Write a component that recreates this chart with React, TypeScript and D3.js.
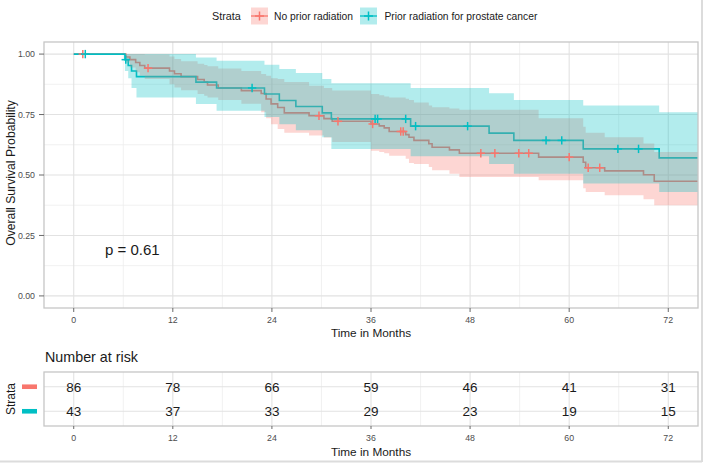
import React from "react";
import * as d3 from "d3";

// ---- data ----
const monthTicks = [0, 12, 24, 36, 48, 60, 72];
const monthMinor = [6, 18, 30, 42, 54, 66];
const probTicks = [0, 0.25, 0.5, 0.75, 1];
const probMinor = [0.125, 0.375, 0.625, 0.875];
const strataNames = ["No prior radiation", "Prior radiation for prostate cancer"];
const strataColors = ["#F8766D", "#00BFC4"];

const noPriorTime = [0, 6.3, 6.8, 7.5, 8.0, 8.6, 11.6, 12.2, 13.0, 15.0, 15.8, 16.2, 17.5, 20.3, 22.7, 23.3, 23.9, 24.7, 25.5, 28.5, 30.3, 31.3, 36.0, 37.0, 37.6, 38.2, 40.2, 40.6, 41.2, 43.0, 43.4, 45.5, 46.7, 56.3, 61.7, 62.0, 64.3, 69.0, 70.3];
const noPriorSurv = [1.0, 0.988, 0.977, 0.965, 0.953, 0.942, 0.930, 0.919, 0.907, 0.895, 0.884, 0.872, 0.860, 0.849, 0.837, 0.814, 0.794, 0.779, 0.757, 0.745, 0.733, 0.722, 0.711, 0.703, 0.695, 0.680, 0.667, 0.656, 0.643, 0.629, 0.615, 0.604, 0.590, 0.574, 0.553, 0.530, 0.517, 0.501, 0.474];
const noPriorUpper = [1, 1, 1, 1, 1, 0.998, 0.99, 0.98, 0.97, 0.96, 0.955, 0.95, 0.94, 0.93, 0.918, 0.91, 0.90, 0.897, 0.885, 0.869, 0.86, 0.849, 0.835, 0.83, 0.825, 0.82, 0.815, 0.81, 0.80, 0.787, 0.78, 0.775, 0.77, 0.735, 0.70, 0.675, 0.656, 0.63, 0.595];
const noPriorLower = [1, 0.965, 0.945, 0.925, 0.91, 0.897, 0.875, 0.862, 0.85, 0.835, 0.828, 0.82, 0.81, 0.795, 0.76, 0.735, 0.71, 0.69, 0.675, 0.663, 0.655, 0.636, 0.60, 0.595, 0.59, 0.58, 0.567, 0.55, 0.545, 0.533, 0.52, 0.505, 0.492, 0.478, 0.445, 0.43, 0.416, 0.40, 0.375];
const noPriorCensor = [1.1, 9.0, 29.7, 32.0, 36.2, 39.6, 39.9, 49.3, 51.0, 53.9, 55.1, 60.0, 62.3, 63.7];

const priorTime = [0, 6.2, 6.6, 7.0, 7.6, 14.8, 17.3, 23.1, 24.9, 26.9, 30.1, 31.2, 40.8, 50.3, 53.3, 61.7, 70.9];
const priorSurv = [1, 0.977, 0.953, 0.930, 0.907, 0.884, 0.860, 0.835, 0.808, 0.783, 0.757, 0.732, 0.702, 0.673, 0.643, 0.608, 0.571];
const priorUpper = [1, 1, 1, 1, 1, 0.986, 0.972, 0.956, 0.938, 0.922, 0.897, 0.879, 0.860, 0.838, 0.810, 0.787, 0.760];
const priorLower = [1, 0.93, 0.90, 0.86, 0.821, 0.794, 0.766, 0.74, 0.71, 0.685, 0.656, 0.608, 0.578, 0.545, 0.505, 0.465, 0.43];
const priorCensor = [1.4, 6.3, 21.6, 36.5, 36.8, 40.2, 41.4, 47.7, 57.2, 59.1, 65.9, 68.4];

const riskNoPrior = [86, 78, 66, 59, 46, 41, 31];
const riskPrior = [43, 37, 33, 29, 23, 19, 15];
const maxFollowUp = 76;

const FONT = "'Liberation Sans', Arial, Helvetica, sans-serif";

type Group = {
  time: number[]; surv: number[]; upper: number[]; lower: number[]; censor: number[]; color: string;
};

const groups: Group[] = [
  { time: noPriorTime, surv: noPriorSurv, upper: noPriorUpper, lower: noPriorLower, censor: noPriorCensor, color: strataColors[0] },
  { time: priorTime, surv: priorSurv, upper: priorUpper, lower: priorLower, censor: priorCensor, color: strataColors[1] },
];

function survAt(g: Group, t: number) {
  let s = g.surv[0];
  for (let i = 0; i < g.time.length; i++) if (g.time[i] <= t) s = g.surv[i];
  return s;
}

export default function App() {
  const pL = 44, pR = 698, pT = 42, pB = 308;
  const rT = 372, rB = 426;
  const x = d3.scaleLinear().domain([-3.6, 75.6]).range([pL, pR]);
  const y = d3.scaleLinear().domain([-0.05, 1.05]).range([pB, pT]);
  const yr = d3.scaleLinear().domain([0.4, 2.6]).range([rB, rT]);

  const line = d3.line<[number, number]>().x(d => x(d[0])).y(d => y(d[1])).curve(d3.curveStepAfter);
  const area = d3.area<[number, number, number]>().x(d => x(d[0])).y0(d => y(d[2])).y1(d => y(d[1])).curve(d3.curveStepAfter);

  const linePts = (g: Group): [number, number][] => {
    const pts = g.time.map((t, i) => [t, g.surv[i]] as [number, number]);
    pts.push([maxFollowUp, g.surv[g.surv.length - 1]]);
    return pts;
  };
  const bandPts = (g: Group): [number, number, number][] => {
    const pts = g.time.map((t, i) => [t, g.upper[i], g.lower[i]] as [number, number, number]);
    pts.push([maxFollowUp, g.upper[g.upper.length - 1], g.lower[g.lower.length - 1]]);
    return pts;
  };

  const plus = (cx: number, cy: number, color: string, key: string, s = 4.2) => (
    <g key={key} stroke={color} strokeWidth={1.5}>
      <line x1={cx - s} x2={cx + s} y1={cy} y2={cy} />
      <line x1={cx} x2={cx} y1={cy - s} y2={cy + s} />
    </g>
  );

  const gridCol = "#e2e2e2";
  const minorCol = "#ededed";
  const borderCol = "#c6c6c6";
  const tickCol = "#6a6a6a";
  const labCol = "#4d4d4d";

  return (
    <svg width={709} height={468} style={{ position: "absolute", left: 0, top: 0, background: "#fff" }} fontFamily={FONT}>
      <defs>
        <clipPath id="panelClip">
          <rect x={pL} y={pT} width={pR - pL} height={pB - pT} />
        </clipPath>
      </defs>
      {/* outer frame */}
      <line x1={702} x2={702} y1={0} y2={462} stroke="#dcdcdc" strokeWidth={2} />
      <line x1={0} x2={702} y1={461.5} y2={461.5} stroke="#dcdcdc" strokeWidth={2} />

      {/* legend */}
      <g>
        <text x={212} y={20} fontSize={10.8} fill="#1a1a1a">Strata</text>
        {strataNames.map((name, i) => {
          const kx = i === 0 ? 251 : 360;
          const tx = i === 0 ? 274 : 384.5;
          return (
            <g key={name}>
              <rect x={kx} y={7.5} width={17} height={17} fill={strataColors[i]} fillOpacity={0.3} />
              <line x1={kx} x2={kx + 17} y1={16} y2={16} stroke={strataColors[i]} strokeWidth={1.3} />
              {plus(kx + 8.5, 16, strataColors[i], "lk" + i, 4.5)}
              <text x={tx} y={19.7} fontSize={10.3} fill="#1a1a1a">{name}</text>
            </g>
          );
        })}
      </g>

      {/* main panel grid */}
      <rect x={pL} y={pT} width={pR - pL} height={pB - pT} fill="#fff" />
      {probMinor.map(v => <line key={"ym" + v} x1={pL} x2={pR} y1={y(v)} y2={y(v)} stroke={minorCol} strokeWidth={0.8} />)}
      {monthMinor.map(v => <line key={"xm" + v} x1={x(v)} x2={x(v)} y1={pT} y2={pB} stroke={minorCol} strokeWidth={0.8} />)}
      {probTicks.map(v => <line key={"yg" + v} x1={pL} x2={pR} y1={y(v)} y2={y(v)} stroke={gridCol} strokeWidth={1.1} />)}
      {monthTicks.map(v => <line key={"xg" + v} x1={x(v)} x2={x(v)} y1={pT} y2={pB} stroke={gridCol} strokeWidth={1.1} />)}

      <g clipPath="url(#panelClip)">
        {groups.map((g, i) => (
          <path key={"l" + i} d={line(linePts(g)) || ""} fill="none" stroke={g.color} strokeWidth={1.6} />
        ))}
        {groups.map((g, i) => (
          <path key={"b" + i} d={area(bandPts(g)) || ""} fill={g.color} fillOpacity={0.3} stroke="none" />
        ))}
        {groups.map((g, i) => g.censor.map((t, j) => plus(x(t), y(survAt(g, t)), g.color, "c" + i + "_" + j)))}
      </g>
      <rect x={pL} y={pT} width={pR - pL} height={pB - pT} fill="none" stroke={borderCol} strokeWidth={1.3} />

      {/* y axis */}
      {probTicks.map(v => (
        <g key={"yt" + v}>
          <line x1={pL - 5} x2={pL} y1={y(v)} y2={y(v)} stroke={tickCol} strokeWidth={1} />
          <text x={pL - 9} y={y(v)} dy="0.35em" textAnchor="end" fontSize={8.8} fill={labCol}>{v.toFixed(2)}</text>
        </g>
      ))}
      <text transform={`translate(14.5,${(pT + pB) / 2 - 2}) rotate(-90)`} textAnchor="middle" fontSize={12.2} fill="#1a1a1a">Overall Survival Probability</text>

      {/* x axis */}
      {monthTicks.map(v => (
        <g key={"xt" + v}>
          <line x1={x(v)} x2={x(v)} y1={pB} y2={pB + 4} stroke={tickCol} strokeWidth={1} />
          <text x={x(v)} y={322.5} textAnchor="middle" fontSize={8.8} fill={labCol}>{v}</text>
        </g>
      ))}
      <text x={(pL + pR) / 2} y={336.5} textAnchor="middle" fontSize={11.8} fill="#1a1a1a">Time in Months</text>

      <text x={105} y={254.5} fontSize={15} fill="#1a1a1a">p = 0.61</text>

      {/* risk table */}
      <text x={45} y={362} fontSize={14.3} fill="#1a1a1a">Number at risk</text>
      <rect x={pL} y={rT} width={pR - pL} height={rB - rT} fill="#fff" />
      {monthMinor.map(v => <line key={"rxm" + v} x1={x(v)} x2={x(v)} y1={rT} y2={rB} stroke={minorCol} strokeWidth={0.8} />)}
      {monthTicks.map(v => <line key={"rxg" + v} x1={x(v)} x2={x(v)} y1={rT} y2={rB} stroke={gridCol} strokeWidth={1.1} />)}
      {[1, 2].map(v => <line key={"ryg" + v} x1={pL} x2={pR} y1={yr(v)} y2={yr(v)} stroke={gridCol} strokeWidth={1.1} />)}
      {monthTicks.map((m, i) => (
        <g key={"rn" + m}>
          <text x={x(m)} y={yr(2)} dy="0.36em" textAnchor="middle" fontSize={13.5} fill="#1a1a1a">{riskNoPrior[i]}</text>
          <text x={x(m)} y={yr(1)} dy="0.36em" textAnchor="middle" fontSize={13.5} fill="#1a1a1a">{riskPrior[i]}</text>
        </g>
      ))}
      <rect x={pL} y={rT} width={pR - pL} height={rB - rT} fill="none" stroke={borderCol} strokeWidth={1.3} />
      <rect x={22} y={yr(2) - 2.3} width={15} height={4.6} fill={strataColors[0]} />
      <rect x={22} y={yr(1) - 2.3} width={15} height={4.6} fill={strataColors[1]} />
      <text transform={`translate(14.5,${(rT + rB) / 2}) rotate(-90)`} textAnchor="middle" fontSize={12} fill="#1a1a1a">Strata</text>
      {monthTicks.map(v => (
        <g key={"rxt" + v}>
          <line x1={x(v)} x2={x(v)} y1={rB} y2={rB + 3} stroke={tickCol} strokeWidth={1} />
          <text x={x(v)} y={441} textAnchor="middle" fontSize={8.8} fill={labCol}>{v}</text>
        </g>
      ))}
      <text x={(pL + pR) / 2} y={456} textAnchor="middle" fontSize={11.8} fill="#1a1a1a">Time in Months</text>
    </svg>
  );
}
